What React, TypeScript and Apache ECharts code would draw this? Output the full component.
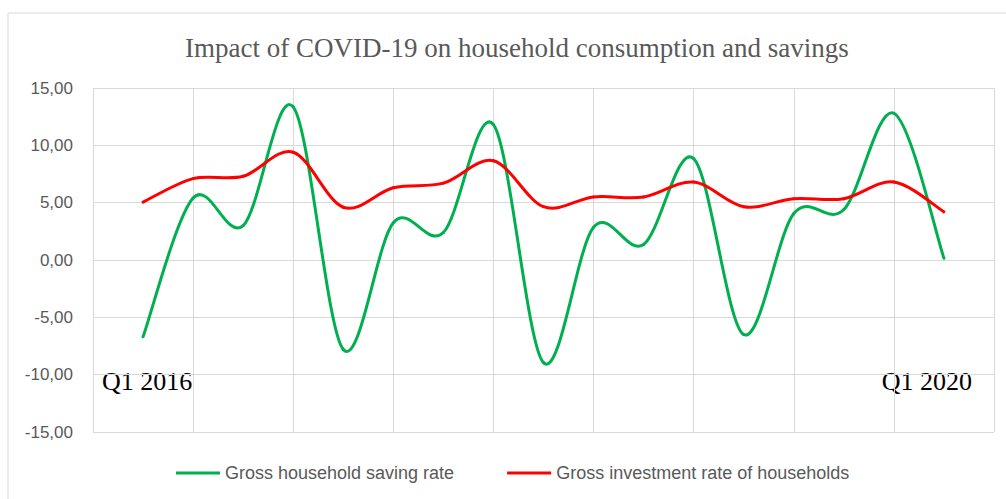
import React, { useEffect, useRef } from "react";
import * as echarts from "echarts";

const quarters = [
  "Q1 2016", "Q2 2016", "Q3 2016", "Q4 2016",
  "Q1 2017", "Q2 2017", "Q3 2017", "Q4 2017",
  "Q1 2018", "Q2 2018", "Q3 2018", "Q4 2018",
  "Q1 2019", "Q2 2019", "Q3 2019", "Q4 2019",
  "Q1 2020",
];
const savingRate = [-6.7, 5.4, 3.0, 13.35, -7.8, 3.25, 2.4, 11.8, -8.95, 2.85, 1.35, 8.85, -6.5, 4.05, 4.4, 12.8, 0.15];
const investmentRate = [5.05, 7.1, 7.3, 9.4, 4.6, 6.3, 6.7, 8.65, 4.65, 5.5, 5.5, 6.8, 4.65, 5.35, 5.35, 6.8, 4.2];
const yTicks = { min: -15, max: 15, interval: 5 };

const TITLE = "Impact of COVID-19 on household consumption and savings";
const SERIES_NAMES = ["Gross household saving rate", "Gross investment rate of households"];
const COLORS = ["#00B050", "#FF0000"];

function smoothSeries(name: string, vals: number[], color: string) {
  const n = vals.length;
  return {
    name,
    type: "custom",
    data: vals.slice(0, n - 1).map((v, i) => [i + 1, v]),
    itemStyle: { color },
    renderItem: (params: any, api: any) => {
      const i = params.dataIndex;
      const pt = (k: number) => {
        const kk = Math.max(0, Math.min(n - 1, k));
        return api.coord([kk + 1, vals[kk]]);
      };
      const p0 = pt(i - 1);
      const p1 = pt(i);
      const p2 = pt(i + 1);
      const p3 = pt(i + 2);
      const t = 1 / 6;
      return {
        type: "bezierCurve",
        shape: {
          x1: p1[0],
          y1: p1[1],
          x2: p2[0],
          y2: p2[1],
          cpx1: p1[0] + (p2[0] - p0[0]) * t,
          cpy1: p1[1] + (p2[1] - p0[1]) * t,
          cpx2: p2[0] - (p3[0] - p1[0]) * t,
          cpy2: p2[1] - (p3[1] - p1[1]) * t,
        },
        style: { stroke: color, lineWidth: 3, fill: "none", lineCap: "round" },
      };
    },
  };
}

export default function App() {
  const ref = useRef<HTMLDivElement>(null);
  useEffect(() => {
    document.body.style.margin = "0";
    const chart = echarts.init(ref.current!, null, { renderer: "svg" });
    const gray = "#d9d9d9";
    chart.setOption({
      animation: false,
      backgroundColor: "#ffffff",
      title: {
        text: TITLE,
        left: 180,
        top: 29,
        textStyle: {
          fontFamily: "Liberation Serif",
          fontSize: 27,
          fontWeight: "normal",
          color: "#595959",
        },
      },
      legend: {
        left: 176,
        top: 464,
        padding: 0,
        itemWidth: 44,
        itemHeight: 3,
        itemGap: 53,
        icon: "rect",
        textStyle: { fontFamily: "Liberation Sans", fontSize: 18, color: "#595959" },
        data: SERIES_NAMES,
      },
      grid: { left: 93, right: 12, top: 88, bottom: 67 },
      xAxis: {
        type: "value",
        min: 0,
        max: quarters.length + 1,
        interval: 2,
        axisLabel: { show: false },
        axisTick: { show: false },
        axisLine: { show: false },
        splitLine: { show: true, lineStyle: { color: gray, width: 1 } },
      },
      yAxis: {
        type: "value",
        min: yTicks.min,
        max: yTicks.max,
        interval: yTicks.interval,
        axisLine: { show: false },
        axisTick: { show: false },
        axisLabel: {
          margin: 20,
          fontFamily: "Liberation Sans",
          fontSize: 17,
          color: "#595959",
          formatter: (v: number) => v.toFixed(2).replace(".", ","),
        },
        splitLine: { show: true, lineStyle: { color: gray, width: 1 } },
      },
      graphic: [
        {
          type: "rect",
          shape: { x: 8, y: 13, width: 1100, height: 600 },
          style: { fill: "none", stroke: gray, lineWidth: 1 },
          silent: true,
          z: -10,
        },
        {
          type: "text",
          x: 102,
          y: 381,
          style: {
            text: quarters[0],
            font: "26px 'Liberation Serif'",
            fill: "#000000",
            verticalAlign: "middle",
          },
        },
        {
          type: "text",
          x: 972,
          y: 381,
          style: {
            text: quarters[quarters.length - 1],
            font: "26px 'Liberation Serif'",
            fill: "#000000",
            align: "right",
            verticalAlign: "middle",
          },
        },
      ],
      series: [
        smoothSeries(SERIES_NAMES[0], savingRate, COLORS[0]),
        smoothSeries(SERIES_NAMES[1], investmentRate, COLORS[1]),
      ],
    });
    return () => chart.dispose();
  }, []);
  return <div ref={ref} style={{ width: 1006, height: 499 }} />;
}
